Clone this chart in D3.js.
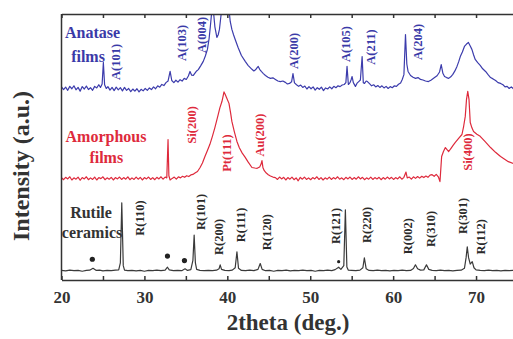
<!DOCTYPE html>
<html>
<head>
<meta charset="utf-8">
<script src="https://cdn.jsdelivr.net/npm/d3@7"></script>
<style>
body { margin: 0; background: #fff; }
svg text { font-family: "Liberation Serif", "Times New Roman", serif; font-weight: bold; }
</style>
</head>
<body>
<script>
// 2theta (deg) / intensity (a.u., relative to each trace's own baseline)
const anatase = [
    [20.0, 0.4], [20.25, -0.6], [20.5, 0.3], [20.75, -0.9], [21.0, 0.6], [21.25, -0.3], [21.5, 0.8], [21.75, -0.7],
    [22.0, 0.2], [22.25, -1.2], [22.5, 0.5], [22.75, -0.4], [23.0, 0.7], [23.25, -0.6], [23.5, 0.1], [23.75, -0.9],
    [24.0, 0.6], [24.25, 0.0], [24.5, 1.2], [24.7, 0.2], [24.9, 1.5], [25.05, 9.6], [25.2, 1.2], [25.4, -0.2],
    [25.6, 0.5], [25.85, -0.8], [26.1, 0.2], [26.35, -1.0], [26.6, 0.3], [26.85, -0.7], [27.1, 0.1], [27.35, -1.1],
    [27.6, 0.2], [27.85, -0.9], [28.1, -0.2], [28.35, -1.4], [28.6, -0.4], [28.85, -1.2], [29.1, -0.3], [29.35, -1.5],
    [29.6, -0.5], [29.85, -1.1], [30.1, -0.2], [30.35, -0.9], [30.6, 0.0], [30.85, -0.6], [31.1, 0.4], [31.35, -0.3],
    [31.6, 0.8], [31.85, 0.3], [32.1, 1.3], [32.35, 0.9], [32.6, 2.0], [32.85, 2.6], [33.1, 6.2], [33.3, 2.8],
    [33.55, 2.0], [33.8, 2.9], [34.05, 2.2], [34.3, 3.1], [34.55, 2.6], [34.8, 3.6], [35.05, 3.2], [35.3, 4.5],
    [35.5, 6.2], [35.7, 4.8], [35.9, 4.7], [36.1, 5.6], [36.3, 6.4], [36.5, 6.9], [36.8, 8.4], [37.1, 10.0],
    [37.35, 12.0], [37.6, 14.5], [37.8, 18.5], [37.95, 23], [38.1, 28], [38.2, 34], [38.35, 28], [38.5, 23],
    [38.74, 19], [38.9, 20], [39.05, 22], [39.25, 27.6], [39.45, 33], [39.7, 36], [40.0, 35], [40.2, 29.5],
    [40.35, 25], [40.55, 22], [40.75, 20], [40.95, 18.2], [41.3, 15.2], [41.7, 12.2], [42.16, 10], [42.5, 8.5],
    [42.97, 7], [43.2, 6.4], [43.4, 6.8], [43.6, 7.6], [43.73, 8.1], [43.9, 7.0], [44.1, 6.2], [44.35, 5.4],
    [44.6, 4.7], [44.9, 4.0], [45.2, 3.6], [45.5, 3.8], [45.8, 3.2], [46.1, 2.6], [46.4, 2.4], [46.7, 2.6],
    [47.0, 2.1], [47.25, 1.5], [47.5, 1.7], [47.75, 2.3], [47.92, 5.4], [48.1, 1.9], [48.35, 1.2], [48.6, 0.6],
    [48.85, 1.1], [49.1, 0.2], [49.35, 0.7], [49.6, -0.4], [49.85, 0.5], [50.1, -0.3], [50.35, 0.4], [50.6, -0.8],
    [50.85, 0.1], [51.1, -0.5], [51.35, 0.3], [51.6, -1.0], [51.85, 0.0], [52.1, -0.4], [52.35, 0.4], [52.6, -0.3],
    [52.85, 0.6], [53.1, 0.1], [53.35, 0.8], [53.6, 0.5], [53.85, 1.1], [54.1, 1.3], [54.3, 2.0], [54.44, 8.1],
    [54.6, 1.3], [54.8, 2.0], [54.92, 3.0], [55.05, 4.3], [55.2, 2.0], [55.45, 0.6], [55.65, 1.8], [55.85, 2.4],
    [56.05, 3.0], [56.26, 11.8], [56.4, 2.0], [56.55, 1.7], [56.75, 2.6], [56.9, 2.4], [57.15, 1.6], [57.4, 0.8],
    [57.65, 1.2], [57.9, 0.4], [58.15, 0.9], [58.4, 0.2], [58.65, 0.8], [58.9, 0.0], [59.15, 0.6], [59.4, -0.2],
    [59.65, 0.5], [59.9, 0.1], [60.15, 0.8], [60.4, 0.6], [60.65, 1.4], [60.9, 1.9], [61.1, 3.2], [61.3, 5],
    [61.49, 20.1], [61.65, 9], [61.8, 6.2], [62.1, 4.7], [62.4, 4.0], [62.7, 3.6], [63.0, 3.9], [63.3, 3.2],
    [63.6, 3.0], [63.9, 2.6], [64.26, 2.4], [64.6, 3.0], [65.0, 3.9], [65.3, 4.6], [65.6, 6.0], [65.8, 8.8],
    [66.0, 5.5], [66.2, 4.3], [66.45, 3.9], [66.7, 3.6], [66.95, 4.2], [67.2, 5.1], [67.45, 6.4], [67.7, 8.1],
    [67.9, 9.8], [68.1, 11.8], [68.35, 13.5], [68.6, 15.6], [68.85, 16.5], [69.08, 17.1], [69.3, 15.8], [69.5, 14.5],
    [69.7, 12.5], [69.9, 10.7], [70.2, 9.5], [70.5, 8.5], [70.8, 7.2], [71.15, 6.2], [71.45, 5.0], [71.75, 3.9],
    [72.05, 3.4], [72.36, 2.8], [72.65, 2.0], [72.96, 1.7], [73.25, 1.2], [73.5, 0.4], [73.75, 0.6], [74.0, -0.2],
    [74.25, 0.4], [74.5, -0.3], [74.75, 0.2], [75.0, -0.1]
]

const amorphous = [
    [20.0, 0.3], [20.25, -0.5], [20.5, 0.4], [20.75, -0.2], [21.0, 0.6], [21.25, -0.6], [21.5, 0.2], [21.75, -0.3],
    [22.0, 0.5], [22.25, -0.7], [22.5, 0.3], [22.75, -0.2], [23.0, 0.6], [23.25, -0.5], [23.5, 0.2], [23.75, -0.4],
    [24.0, 0.5], [24.25, -0.6], [24.5, 0.3], [24.75, -0.1], [25.0, 0.6], [25.25, -0.5], [25.5, 0.2], [25.75, -0.3],
    [26.0, 0.4], [26.25, -0.6], [26.5, 0.3], [26.75, -0.2], [27.0, 0.5], [27.25, -0.4], [27.5, 0.3], [27.75, -0.3],
    [28.0, 0.6], [28.25, -0.5], [28.5, 0.2], [28.75, -0.4], [29.0, 0.5], [29.25, -0.3], [29.5, 0.4], [29.75, -0.6],
    [30.0, 0.3], [30.25, -0.2], [30.5, 0.5], [30.75, -0.4], [31.0, 0.3], [31.25, -0.5], [31.5, 0.4], [31.75, -0.2],
    [32.0, 0.6], [32.25, -0.3], [32.5, 0.5], [32.7, 0.2], [32.85, 14.6], [32.95, 1.0], [33.1, -0.6], [33.35, 0.0],
    [33.6, 0.5], [33.85, -0.3], [34.1, 0.6], [34.35, 0.2], [34.6, 0.8], [34.85, 0.4], [35.1, 1.0], [35.35, 0.7],
    [35.6, 1.3], [35.85, 1.5], [36.1, 2.0], [36.4, 2.6], [36.7, 4.0], [37.0, 5.8], [37.3, 8.2], [37.6, 10.5],
    [37.9, 12.8], [38.2, 15.8], [38.5, 19.1], [38.7, 21.5], [38.9, 24], [39.1, 26.5], [39.35, 28.9], [39.5, 31],
    [39.6, 32.5], [39.75, 31.5], [39.9, 30.4], [40.2, 28.2], [40.4, 24.5], [40.55, 21.4], [40.85, 17.5], [41.16, 13.9],
    [41.45, 11.5], [41.8, 9.5], [42.16, 7.9], [42.5, 6.2], [42.97, 4.1], [43.3, 3.9], [43.6, 3.8], [43.9, 4.3],
    [44.05, 5.2], [44.18, 6.7], [44.3, 4.0], [44.46, 2.9], [44.7, 2.0], [44.94, 1.4], [45.2, 0.9], [45.5, 0.5],
    [45.8, 0.3], [46.05, -0.4], [46.3, 0.5], [46.55, -0.2], [46.8, 0.4], [47.05, -0.6], [47.3, 0.3], [47.55, -0.3],
    [47.8, 0.5], [48.05, -0.5], [48.3, 0.2], [48.55, -0.9], [48.8, 0.4], [49.05, -0.3], [49.3, 0.5], [49.55, -0.4],
    [49.8, 0.2], [50.05, -0.5], [50.3, 0.3], [50.55, -0.2], [50.8, 0.6], [51.05, -0.4], [51.3, 0.3], [51.55, -0.6],
    [51.8, 0.2], [52.05, -0.3], [52.3, 0.5], [52.55, -0.4], [52.8, 0.3], [53.05, -0.2], [53.3, 0.6], [53.55, -0.3],
    [53.8, 0.2], [54.05, -0.5], [54.3, 0.4], [54.55, -0.2], [54.8, 0.5], [55.05, -0.4], [55.3, 0.3], [55.55, -0.3],
    [55.8, 0.6], [56.05, -0.2], [56.3, 0.4], [56.55, -0.5], [56.8, 0.2], [57.05, -0.3], [57.3, 0.5], [57.55, -0.4],
    [57.8, 0.3], [58.05, -0.2], [58.3, 0.4], [58.55, -0.5], [58.8, 0.3], [59.05, -0.3], [59.3, 0.5], [59.55, -0.2],
    [59.8, 0.4], [60.05, -0.4], [60.3, 0.3], [60.55, -0.2], [60.8, 0.6], [61.05, -0.3], [61.3, 0.4], [61.55, 2.4],
    [61.7, 0.2], [61.95, 0.5], [62.2, -0.3], [62.45, 0.6], [62.7, 0.0], [62.95, 0.7], [63.2, 0.1], [63.45, 0.8],
    [63.7, 0.3], [63.95, 0.9], [64.2, 0.4], [64.45, 1.2], [64.7, 1.4], [64.95, 0.8], [65.2, 1.5], [65.45, 0.6],
    [65.65, -1.2], [65.85, 8.2], [66.07, 10.1], [66.3, 11.6], [66.5, 10.8], [66.7, 10.1], [67.0, 11.4], [67.25, 12.5],
    [67.5, 13.5], [67.9, 15.0], [68.3, 16.5], [68.5, 19.5], [68.7, 23.3], [68.85, 29.7], [69.0, 32.7], [69.15, 29.7],
    [69.3, 21], [69.5, 19], [69.7, 17.6], [70.1, 16.6], [70.5, 15.8], [71.1, 13.8], [71.75, 11.6], [72.35, 9.8],
    [72.96, 8.2], [73.45, 7.2], [73.9, 6.3], [74.5, 5.6], [75.0, 5.3]
]

const rutile = [
    [20.0, 0.2], [20.5, 0.0], [21.0, 0.3], [21.5, 0.1], [22.0, 0.2], [22.5, -0.1], [23.0, 0.2], [23.4, 0.3],
    [23.8, 1.0], [24.2, 0.2], [24.6, 0.3], [25.0, 0.0], [25.5, 0.2], [26.0, 0.1], [26.5, 0.3], [26.9, 0.4],
    [27.1, 3], [27.27, 25.6], [27.45, 2], [27.6, 0.3], [28.0, 0.1], [28.5, 0.2], [29.0, 0.0], [29.5, 0.2],
    [30.0, -0.1], [30.5, 0.2], [31.0, 0.1], [31.5, 0.3], [32.0, 0.1], [32.5, 0.3], [32.78, 1.4], [33.0, 0.4],
    [33.5, 0.1], [34.0, 0.2], [34.5, 0.1], [34.9, 0.8], [35.2, 0.2], [35.6, 0.5], [35.85, 4], [36.0, 13.5],
    [36.15, 3], [36.3, 0.6], [36.7, 0.2], [37.2, 0.1], [37.7, 0.2], [38.2, 0.1], [38.7, 0.3], [39.0, 0.8],
    [39.14, 2.3], [39.3, 0.6], [39.7, 0.2], [40.2, 0.1], [40.6, 0.3], [40.95, 1.2], [41.16, 7.2], [41.35, 1.0],
    [41.7, 0.2], [42.2, 0.1], [42.7, 0.3], [43.2, 0.1], [43.7, 0.6], [43.97, 2.8], [44.2, 0.6], [44.6, 0.1],
    [45.1, 0.2], [45.6, -0.1], [46.1, 0.2], [46.6, 0.1], [47.1, 0.3], [47.6, 0.0], [48.1, 0.2], [48.6, 0.1],
    [49.1, 0.3], [49.6, 0.1], [50.1, 0.2], [50.6, -0.1], [51.1, 0.2], [51.6, 0.1], [52.1, 0.3], [52.6, 0.1],
    [53.0, 0.5], [53.43, 1.4], [53.7, 0.6], [54.05, 2], [54.24, 23], [54.42, 1.5], [54.6, 0.3], [55.0, 0.2],
    [55.5, 0.1], [56.0, 0.3], [56.35, 1.2], [56.53, 4.9], [56.75, 0.8], [57.1, 0.2], [57.6, 0.1], [58.1, 0.3],
    [58.6, 0.1], [59.1, 0.2], [59.6, 0.0], [60.1, 0.2], [60.6, 0.1], [61.1, 0.3], [61.6, 0.1], [62.1, 0.2],
    [62.45, 0.9], [62.69, 2.3], [62.95, 0.8], [63.3, 0.3], [63.7, 0.4], [64.02, 2.3], [64.3, 0.6], [64.7, 0.2],
    [65.2, 0.1], [65.7, 0.3], [66.2, 0.1], [66.7, 0.2], [67.2, 0.0], [67.7, 0.2], [68.2, 0.3], [68.6, 1.0],
    [68.8, 5], [68.94, 9.1], [69.1, 5], [69.3, 2.6], [69.54, 3.5], [69.75, 1.2], [70.0, 0.4], [70.5, 0.2],
    [71.0, 0.1], [71.5, 0.3], [72.0, 0.1], [72.5, 0.2], [73.0, 0.0], [73.5, 0.2], [74.0, 0.1], [74.5, 0.2],
    [75.0, 0.1]
]

// vertical offsets of the stacked traces
const offsets = { anatase: 72.2, amorphous: 38.2, rutile: 3.4 }

// peak labels: text, 2theta, height (a.u., absolute)
const anataseLabels = [
    ["A(101)", 26.55, 82.0], ["A(103)", 34.52, 89.1], ["A(004)", 36.93, 92.1], ["A(200)", 48.0, 86.1],
    ["A(105)", 54.24, 88.7], ["A(211)", 57.26, 87.6], ["A(204)", 62.9, 89.5]
]
const amorphousLabels = [
    ["Si(200)", 35.64, 58.3], ["Pt(111)", 39.87, 47.7], ["Au(200)", 43.85, 54.5], ["Si(400)", 68.94, 48.1]
]
const rutileLabels = [
    ["R(110)", 29.48, 23.3], ["R(101)", 36.73, 25.6], ["R(200)", 38.9, 16.2], ["R(111)", 41.55, 20.7],
    ["R(120)", 44.78, 18.0], ["R(121)", 53.03, 20.3], ["R(220)", 56.86, 20.7], ["R(002)", 61.73, 16.5],
    ["R(310)", 64.58, 19.2], ["R(301)", 68.33, 24.1], ["R(112)", 70.54, 16.2]
]
// impurity marks (dots) on the rutile trace
const rutileDots = [[23.72, 7.8, 2.6], [32.78, 9.0, 2.6], [34.83, 7.3, 2.6], [53.43, 6.9, 1.6]]

// series names: lines, 2theta of centre, height of each line
const seriesNames = [
    { lines: ["Anatase", "films"], x: [23.75, 23.2], y: [92.9, 83.9], color: "#3a3aa8" },
    { lines: ["Amorphous", "films"], x: [25.37, 25.4], y: [53.8, 46.2], color: "#de2a3c" },
    { lines: ["Rutile", "ceramics"], x: [23.56, 23.68], y: [25.6, 18.0], color: "#333" }
]

const xTicks = [20, 25, 30, 35, 40, 45, 50, 55, 60, 65, 70, 75]

const width = 513, height = 339

const x = d3.scaleLinear().domain([20, 75]).range([61.5, 517.5])
const y = d3.scaleLinear().domain([0, 100]).range([280, 14])

const svg = d3.select("body").append("svg")
    .attr("width", width)
    .attr("height", height)

svg.append("defs").append("clipPath")
    .attr("id", "plot")
    .append("rect")
    .attr("x", x(20)).attr("y", y(100))
    .attr("width", x(75) - x(20)).attr("height", y(0) - y(100))

const traces = [
    [anatase, offsets.anatase, "#3c3cac"],
    [amorphous, offsets.amorphous, "#de2a3c"],
    [rutile, offsets.rutile, "#3a3a3a"]
]

const g = svg.append("g").attr("clip-path", "url(#plot)")
for (const [data, off, color] of traces) {
    const line = d3.line()
        .x(function (d) { return x(d[0]) })
        .y(function (d) { return y(d[1] + off) })
    g.append("path")
        .datum(data)
        .attr("d", line)
        .style("stroke", color)
        .style("stroke-width", "1.2px")
        .style("stroke-linejoin", "round")
        .style("fill", "none")
}

g.selectAll("circle.dot")
    .data(rutileDots)
    .join("circle")
    .attr("class", "dot")
    .attr("cx", d => x(d[0]))
    .attr("cy", d => y(d[1]))
    .attr("r", d => d[2])
    .style("fill", "#222")

function peakLabels(labels, color) {
    svg.append("g").selectAll("text")
        .data(labels)
        .join("text")
        .attr("transform", d => "translate(" + x(d[1]) + "," + y(d[2]) + ") rotate(-90)")
        .attr("text-anchor", "middle")
        .attr("dy", "0.35em")
        .style("font-size", "12.5px")
        .style("fill", color)
        .text(d => d[0])
}
peakLabels(anataseLabels, "#3a3aa8")
peakLabels(amorphousLabels, "#de2a3c")
peakLabels(rutileLabels, "#2a2a2a")

for (const s of seriesNames) {
    s.lines.forEach((t, i) => {
        svg.append("text")
            .attr("x", x(s.x[i]))
            .attr("y", y(s.y[i]))
            .attr("dy", "0.35em")
            .attr("text-anchor", "middle")
            .style("font-size", "16px")
            .style("fill", s.color)
            .text(t)
    })
}

// frame and axes
svg.append("g")
    .attr("class", "axis axis--x")
    .attr("transform", "translate(0," + y(0) + ")")
    .call(d3.axisBottom(x).tickValues(xTicks).tickSize(-4).tickSizeOuter(0).tickPadding(11)
        .tickFormat(d => d % 10 === 0 ? d : ""))

svg.append("g")
    .attr("class", "axis axis--top")
    .attr("transform", "translate(0," + y(100) + ")")
    .call(d3.axisTop(x).tickValues(xTicks).tickSize(-4).tickSizeOuter(0).tickFormat(""))

svg.append("line")
    .attr("x1", x(20)).attr("x2", x(20))
    .attr("y1", y(0)).attr("y2", y(100))
svg.append("line")
    .attr("x1", x(75)).attr("x2", x(75))
    .attr("y1", y(0)).attr("y2", y(100))

svg.selectAll(".axis path, .axis line, svg > line")
    .style("stroke", "#333")
    .style("stroke-width", "1.5px")
svg.selectAll(".axis text")
    .style("font-family", "'Liberation Serif', 'Times New Roman', serif")
    .style("font-weight", "bold")
    .style("font-size", "17px")
    .style("fill", "#333")

svg.append("text")
    .attr("x", 288)
    .attr("y", 330)
    .attr("text-anchor", "middle")
    .style("font-size", "23px")
    .style("fill", "#333")
    .text("2theta (deg.)")

svg.append("text")
    .attr("transform", "translate(29,166) rotate(-90)")
    .attr("text-anchor", "middle")
    .style("font-size", "24px")
    .style("fill", "#333")
    .text("Intensity (a.u.)")
</script>
</body>
</html>
